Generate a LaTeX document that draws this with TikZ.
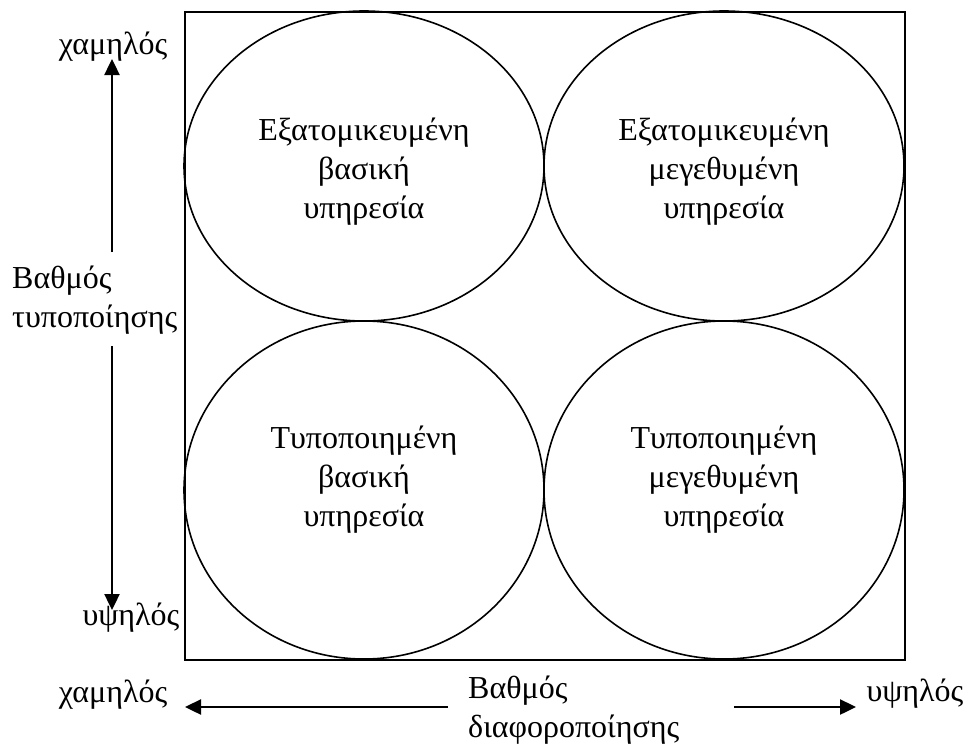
\documentclass[tikz,border=0pt]{standalone}
\usepackage{fontspec}
\setmainfont{Liberation Serif}
\usetikzlibrary{shapes.geometric,arrows.meta}
\begin{document}
\begin{tikzpicture}[x=1pt,y=-1pt,
  lbl/.style={font=\fontsize{32}{39}\selectfont, inner sep=0pt},
  cell/.style={draw, ellipse, line width=1.6pt, inner sep=0pt, minimum width=360pt},
  celltext/.style={lbl, align=center},
  axis/.style={line width=2.4pt, -{Triangle[length=16pt,width=15pt]}}]
\useasboundingbox (0,0) rectangle (979,744);

% outer frame
\node[draw, line width=2pt, minimum width=720pt, minimum height=648pt,
      inner sep=0pt, anchor=north west] (frame) at (184,11) {};

% four service types (y axis points down, so a canvas yshift is reversed)
\node[cell, minimum height=310pt] (tl) at (364,166) {};
\node[cell, minimum height=310pt] (tr) at (724,166) {};
\node[cell, minimum height=338pt] (bl) at (364,490) {};
\node[cell, minimum height=338pt] (br) at (724,490) {};
\node[celltext] (tltext) at ([yshift=-6pt]tl.center) {Εξατομικευμένη\\βασική\\υπηρεσία};
\node[celltext] (trtext) at ([yshift=-6pt]tr.center) {Εξατομικευμένη\\μεγεθυμένη\\υπηρεσία};
\node[celltext] (bltext) at ([yshift=10pt]bl.center) {Τυποποιημένη\\βασική\\υπηρεσία};
\node[celltext] (brtext) at ([yshift=10pt]br.center) {Τυποποιημένη\\μεγεθυμένη\\υπηρεσία};

% vertical axis: degree of standardisation
\node[lbl, anchor=base] (ylow) at (113,54) {χαμηλός};
\node[lbl, anchor=base] (yhigh) at (131,625) {υψηλός};
\node[lbl, align=left, anchor=west] (ytitle) at (12,300) {Βαθμός\\τυποποίησης};
\coordinate (yuptip) at (112,59);
\coordinate (yupstart) at (112,252);
\coordinate (ydownstart) at (112,346);
\coordinate (ydowntip) at (112,610);
\draw[axis] (yupstart) -- (yuptip);
\draw[axis] (ydownstart) -- (ydowntip);

% horizontal axis: degree of differentiation
\node[lbl, anchor=base] (xlow) at (113,702) {χαμηλός};
\node[lbl, anchor=base] (xhigh) at (915,701) {υψηλός};
\node[lbl, align=left, anchor=north west] (xtitle) at (468,676) {Βαθμός\\διαφοροποίησης};
\coordinate (xlefttip) at (185,707);
\coordinate (xleftstart) at (448,707);
\coordinate (xrightstart) at (734,707);
\coordinate (xrighttip) at (856,707);
\draw[axis] (xleftstart) -- (xlefttip);
\draw[axis] (xrightstart) -- (xrighttip);
\end{tikzpicture}
\end{document}
